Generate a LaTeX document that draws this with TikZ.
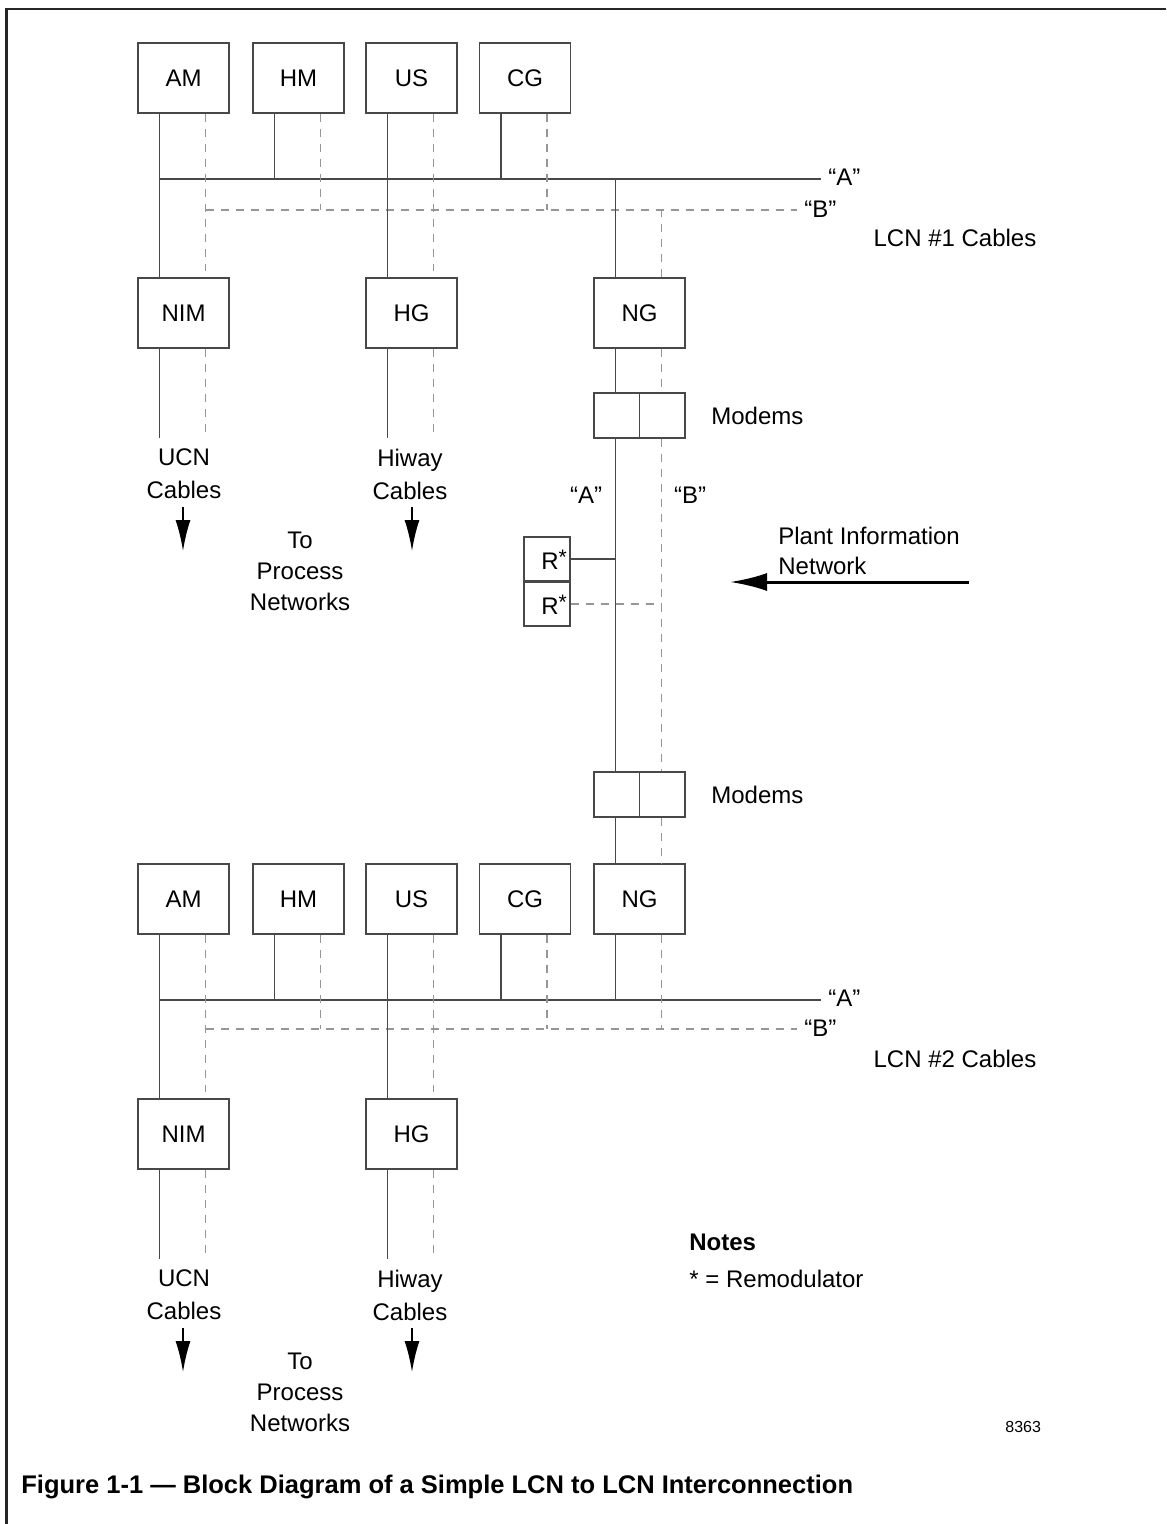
\documentclass[tikz,border=0pt]{standalone}
\usepackage{fontspec}
\setmainfont{Liberation Sans}
\usetikzlibrary{arrows.meta,calc}
\definecolor{linec}{RGB}{72,72,72}
\definecolor{dashc}{RGB}{150,150,150}
\newcommand{\fsn}{\fontsize{12}{16.5}\selectfont}
\newcommand{\rstar}{R\raisebox{2.6pt}{\fontsize{10.5}{10.5}\selectfont *}}
\begin{document}
\begin{tikzpicture}[x=0.5pt,y=-0.5pt,
  blk/.style={draw=linec, line width=0.7pt, minimum width=45.5pt, minimum height=35pt, inner sep=0pt, font=\fsn},
  mdm/.style={draw=linec, line width=0.7pt, minimum width=22.75pt, minimum height=22.5pt, inner sep=0pt},
  rbx/.style={draw=linec, line width=0.7pt, minimum width=23pt, minimum height=22pt, inner sep=0pt},
  sol/.style={draw=linec, line width=0.7pt},
  dsh/.style={draw=dashc, line width=0.7pt, dash pattern=on 4pt off 3.5pt},
  lbl/.style={inner sep=0pt, font=\fsn},
  arr/.style={-{Latex[length=15.5pt,width=7.5pt]}, line width=0.9pt, black},
  parr/.style={-{Latex[length=18.5pt,width=9pt]}, line width=1.5pt, black}]
\useasboundingbox (0,0) rectangle (1166,1524);
% frame
\draw[line width=1.3pt, black!85] (6.5,1524) -- (6.5,9) -- (1166,9);

% ---------- LCN #1 ----------
\node[blk] (AMa) at (183.5,78) {AM};
\node[blk] (HMa) at (298.5,78) {HM};
\node[blk] (USa) at (411.5,78) {US};
\node[blk] (CGa) at (525,78) {CG};
\node[blk] (NIMa) at (183.5,313) {NIM};
\node[blk] (HGa) at (411.5,313) {HG};
\node[blk] (NGa) at (639.5,313) {NG};
\node[mdm] (MDa1) at (616.75,415.5) {};
\node[mdm] (MDa2) at (662.25,415.5) {};
% ---------- LCN #2 ----------
\node[blk] (AMb) at (183.5,899) {AM};
\node[blk] (HMb) at (298.5,899) {HM};
\node[blk] (USb) at (411.5,899) {US};
\node[blk] (CGb) at (525,899) {CG};
\node[blk] (NGb) at (639.5,899) {NG};
\node[blk] (NIMb) at (183.5,1134) {NIM};
\node[blk] (HGb) at (411.5,1134) {HG};
\node[mdm] (MDb1) at (616.75,794.5) {};
\node[mdm] (MDb2) at (662.25,794.5) {};
% remodulators
\node[rbx] (R1) at (547,559) {};
\node[rbx] (R2) at (547,604) {};
\node[lbl] (R1t) at (554,560) {\rstar};
\node[lbl] (R2t) at (554,605) {\rstar};

% cable taps
\foreach \n in {AMa,HMa,USa,CGa,NGa,AMb,HMb,USb,CGb,NGb} {
  \coordinate (\n-s) at ($(\n.south)+(-24,0)$);
  \coordinate (\n-d) at ($(\n.south)+(22,0)$);
}
\coordinate (Aa-e) at (821,179);
\coordinate (Ba-e) at (797,210);
\coordinate (Ab-e) at (821,1000);
\coordinate (Bb-e) at (797,1029);

% buses LCN1
\draw[sol] (AMa-s |- Aa-e) -- (Aa-e);
\draw[dsh] (AMa-d |- Ba-e) -- (Ba-e);
\node[lbl, anchor=west] (lAa) at ($(Aa-e)+(7,-2)$) {“A”};
\node[lbl, anchor=west] (lBa) at ($(Ba-e)+(7,-1)$) {“B”};
\node[lbl] (lcn1) at (955,238) {LCN \#1 Cables};

\draw[sol] (AMa-s) -- (AMa-s |- NIMa.north);
\draw[dsh] (AMa-d) -- ($(AMa-d |- NIMa.north)+(0,-6)$);
\draw[sol] (HMa-s) -- (HMa-s |- Aa-e);
\draw[dsh] (HMa-d) -- (HMa-d |- Ba-e);
\draw[sol] (USa-s) -- (USa-s |- HGa.north);
\draw[dsh] (USa-d) -- ($(USa-d |- HGa.north)+(0,-6)$);
\draw[sol] (CGa-s) -- (CGa-s |- Aa-e);
\draw[dsh] (CGa-d) -- (CGa-d |- Ba-e);
\draw[sol] (NGa.north -| NGa-s) -- (NGa-s |- Aa-e);
\draw[dsh] (NGa.north -| NGa-d) -- (NGa-d |- Ba-e);
\draw[sol] (NGa-s) -- (NGa-s |- MDa1.north);
\draw[dsh] (NGa-d) -- (NGa-d |- MDa2.north);

% link between modems
\draw[sol] (NGa-s |- MDa1.south) -- (NGa-s |- MDb1.north);
\draw[dsh] (NGa-d |- MDa2.south) -- (NGa-d |- MDb2.north);
\draw[sol] (R1.east) -- (R1.east -| NGa-s);
\draw[dsh] (R2.east) -- (R2.east -| NGa-d);
\node[lbl, anchor=west] (mdl1) at (711,415.5) {Modems};
\node[lbl, anchor=west] (mdl2) at (711,794.5) {Modems};
\node[lbl] (lAm) at (586,495) {“A”};
\node[lbl] (lBm) at (690,495) {“B”};
\node[lbl, anchor=north west, align=left, font=\fontsize{12}{15}\selectfont] (pin) at (778,526.5) {Plant Information\\Network};
\coordinate (pinS) at (969,582);
\coordinate (pinE) at (730,582);
\draw[parr] (pinS) -- (pinE);

% process side LCN1
\coordinate (NIMa-e) at ($(NIMa.south)+(0,89)$);
\coordinate (HGa-e) at ($(HGa.south)+(0,89)$);
\draw[sol] (NIMa.south -| AMa-s) -- (NIMa-e -| AMa-s);
\draw[dsh] (NIMa.south -| AMa-d) -- (NIMa-e -| AMa-d);
\draw[sol] (HGa.south -| USa-s) -- (HGa-e -| USa-s);
\draw[dsh] (HGa.south -| USa-d) -- (HGa-e -| USa-d);
\node[lbl, anchor=north, align=center] (ucna) at (184,448.5) {UCN\\Cables};
\node[lbl, anchor=north, align=center] (hwya) at (410,448.5) {Hiway\\Cables};
\node[lbl, anchor=north, align=center, font=\fontsize{12}{15.5}\selectfont] (tpna) at (300,531.5) {To\\Process\\Networks};
\coordinate (ua1) at (183,507); \coordinate (ua2) at (183,551);
\coordinate (ha1) at (412,507); \coordinate (ha2) at (412,551);
\draw[arr] (ua1) -- (ua2);
\draw[arr] (ha1) -- (ha2);

% ---------- LCN #2 wiring ----------
\draw[sol] (NGb-s |- MDb1.south) -- (NGb.north -| NGb-s);
\draw[dsh] (NGb-d |- MDb2.south) -- (NGb.north -| NGb-d);
\draw[sol] (AMb-s |- Ab-e) -- (Ab-e);
\draw[dsh] (AMb-d |- Bb-e) -- (Bb-e);
\node[lbl, anchor=west] (lAb) at ($(Ab-e)+(7,-2)$) {“A”};
\node[lbl, anchor=west] (lBb) at ($(Bb-e)+(7,-1)$) {“B”};
\node[lbl] (lcn2) at (955,1059) {LCN \#2 Cables};

\draw[sol] (AMb-s) -- (AMb-s |- NIMb.north);
\draw[dsh] (AMb-d) -- ($(AMb-d |- NIMb.north)+(0,-6)$);
\draw[sol] (HMb-s) -- (HMb-s |- Ab-e);
\draw[dsh] (HMb-d) -- (HMb-d |- Bb-e);
\draw[sol] (USb-s) -- (USb-s |- HGb.north);
\draw[dsh] (USb-d) -- ($(USb-d |- HGb.north)+(0,-6)$);
\draw[sol] (CGb-s) -- (CGb-s |- Ab-e);
\draw[dsh] (CGb-d) -- (CGb-d |- Bb-e);
\draw[sol] (NGb-s) -- (NGb-s |- Ab-e);
\draw[dsh] (NGb-d) -- (NGb-d |- Bb-e);

\coordinate (NIMb-e) at ($(NIMb.south)+(0,89)$);
\coordinate (HGb-e) at ($(HGb.south)+(0,89)$);
\draw[sol] (NIMb.south -| AMb-s) -- (NIMb-e -| AMb-s);
\draw[dsh] (NIMb.south -| AMb-d) -- (NIMb-e -| AMb-d);
\draw[sol] (HGb.south -| USb-s) -- (HGb-e -| USb-s);
\draw[dsh] (HGb.south -| USb-d) -- (HGb-e -| USb-d);
\node[lbl, anchor=north, align=center] (ucnb) at (184,1269.5) {UCN\\Cables};
\node[lbl, anchor=north, align=center] (hwyb) at (410,1269.5) {Hiway\\Cables};
\node[lbl, anchor=north, align=center, font=\fontsize{12}{15.5}\selectfont] (tpnb) at (300,1352.5) {To\\Process\\Networks};
\coordinate (ub1) at (183,1328); \coordinate (ub2) at (183,1372);
\coordinate (hb1) at (412,1328); \coordinate (hb2) at (412,1372);
\draw[arr] (ub1) -- (ub2);
\draw[arr] (hb1) -- (hb2);

% notes and caption
\node[lbl, anchor=west, font=\fsn\bfseries] (notes) at (689,1242) {Notes};
\node[lbl, anchor=west] (remod) at (689,1279) {* = Remodulator};
\node[lbl, anchor=west, font=\fontsize{8}{10}\selectfont] (num) at (1005,1427) {8363};
\node[lbl, anchor=west, font=\fontsize{12.75}{15}\selectfont\bfseries] (cap) at (21,1487) {Figure 1-1 — Block Diagram of a Simple LCN to LCN Interconnection};
\end{tikzpicture}
\end{document}
